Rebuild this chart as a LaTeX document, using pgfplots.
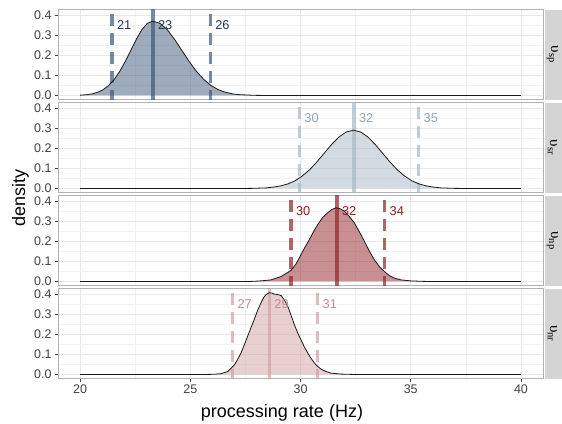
\documentclass[border=0pt]{standalone}
\usepackage{fontspec}
\setmainfont{Liberation Sans}
\newfontfamily\serifstrip{Liberation Serif}
\usepackage{pgfplots}
\usepackage{pgfplotstable}
\pgfplotsset{compat=1.18}

\definecolor{cA}{HTML}{3D5879}
\definecolor{cB}{HTML}{A8B6C4}
\definecolor{cC}{HTML}{93222A}
\definecolor{cD}{HTML}{D1A0A2}
\definecolor{tA}{HTML}{22385A}
\definecolor{tB}{HTML}{8FA1B5}
\definecolor{tC}{HTML}{8E1B1F}
\definecolor{tD}{HTML}{C48C8F}
\definecolor{stripgrey}{HTML}{D4D4D4}

\newcommand\tickfont{\fontsize{12.5}{14}\selectfont}
\newcommand\labfont{\fontsize{12.8}{14}\selectfont}
\newcommand\axfont{\fontsize{18}{21}\selectfont}
\newcommand\stripfont{\serifstrip\fontsize{15}{17}\selectfont}

\pgfplotstableread{
x y
20.00 0.0016
20.30 0.004
20.55 0.008
20.80 0.016
21.05 0.029
21.30 0.050
21.55 0.080
21.80 0.120
22.05 0.169
22.30 0.224
22.55 0.279
22.80 0.327
23.05 0.359
23.30 0.370
23.63 0.359
23.96 0.327
24.29 0.279
24.62 0.224
24.95 0.169
25.28 0.120
25.61 0.080
25.94 0.050
26.27 0.029
26.60 0.016
26.93 0.008
27.26 0.004
27.92 0.0008
28.58 0.0001
30.00 0.0
40.00 0.0
}\tabA

\pgfplotstableread{
x y
20.00 0.0
27.12 0.0001
27.78 0.0006
28.44 0.003
28.77 0.007
29.10 0.013
29.43 0.023
29.76 0.039
30.09 0.063
30.42 0.094
30.75 0.133
31.08 0.176
31.41 0.219
31.74 0.256
32.07 0.281
32.40 0.290
32.73 0.281
33.06 0.256
33.39 0.219
33.72 0.176
34.05 0.133
34.38 0.094
34.71 0.063
35.04 0.039
35.37 0.023
35.70 0.013
36.03 0.007
36.36 0.003
37.02 0.0006
37.68 0.0001
40.00 0.0
}\tabB

\pgfplotstableread{
x y
20.00 0.0
27.60 0.0
27.90 0.001
28.30 0.004
28.66 0.008
29.12 0.025
29.57 0.055
29.80 0.088
30.02 0.133
30.20 0.170
30.40 0.208
30.60 0.250
30.78 0.283
31.00 0.318
31.23 0.342
31.42 0.358
31.61 0.367
31.80 0.362
31.99 0.350
32.20 0.325
32.44 0.292
32.67 0.247
32.90 0.200
33.12 0.152
33.35 0.108
33.57 0.075
33.80 0.050
34.02 0.030
34.25 0.017
34.56 0.008
35.00 0.003
35.60 0.0005
40.00 0.0
}\tabC

\pgfplotstableread{
x y
20.00 0.0
25.80 0.0005
26.10 0.001
26.39 0.004
26.70 0.015
27.00 0.048
27.15 0.075
27.30 0.107
27.45 0.148
27.60 0.190
27.75 0.232
27.90 0.273
28.05 0.318
28.21 0.357
28.33 0.383
28.44 0.398
28.59 0.407
28.70 0.405
28.81 0.400
28.95 0.398
29.12 0.393
29.27 0.370
29.42 0.340
29.57 0.295
29.72 0.248
29.87 0.208
30.02 0.173
30.17 0.138
30.33 0.107
30.48 0.080
30.63 0.057
30.78 0.040
30.93 0.027
31.15 0.015
31.38 0.007
31.84 0.002
32.50 0.0
40.00 0.0
}\tabD

\tikzset{
  vlab/.style={anchor=west, inner sep=0pt, xshift=4.8pt, font=\labfont},
  stripnode/.style={rotate=-90, inner sep=0pt, font=\stripfont},
}

\pgfplotsset{
  panel/.style={
    width=485pt, height=90pt, scale only axis,
    anchor=south west,
    xmin=19, xmax=41, ymin=-0.0204, ymax=0.4274,
    xtick={20,25,30,35,40}, minor xtick={22.5,27.5,32.5,37.5},
    ytick={0,0.1,0.2,0.3,0.4}, minor ytick={0.05,0.15,0.25,0.35},
    grid=both,
    major grid style={draw=black!9, line width=0.7pt},
    minor grid style={draw=black!5, line width=0.4pt},
    axis line style={draw=black!30, line width=0.7pt},
    tick align=outside, tick pos=left,
    major tick length=3pt, minor tick length=0pt,
    tick style={draw=black!75, line width=0.6pt},
    tick label style={font=\tickfont, text=black!75},
    yticklabel style={/pgf/number format/fixed, /pgf/number format/fixed zerofill, /pgf/number format/precision=1},
    /pgf/number format/assume math mode=true,
    clip mode=individual,
  },
  dens/.style={draw=black!90, line width=0.8pt},
  vsolid/.style={line width=3.2pt, opacity=0.7},
  vdash/.style={line width=3.2pt, opacity=0.7, dash pattern=on 12pt off 7pt},
}

\begin{document}
\begin{tikzpicture}
\path[use as bounding box] (0,0) rectangle (562pt,423pt);

% Panel 1
\begin{axis}[panel, at={(58pt,323.4pt)}, xmajorticks=false]
  \addplot[draw=none, fill=cA, fill opacity=0.5] table {\tabA} \closedcycle;
  \addplot[cA, vdash] coordinates {(21.45,-0.03) (21.45,0.44)};
  \addplot[cA, vsolid] coordinates {(23.31,-0.03) (23.31,0.44)};
  \addplot[cA, vdash] coordinates {(25.91,-0.03) (25.91,0.44)};
  \addplot[dens] table {\tabA};
  \node[vlab, text=tA] at (axis cs:21.45,0.35) {21};
  \node[vlab, text=tA] at (axis cs:23.31,0.35) {23};
  \node[vlab, text=tA] at (axis cs:25.91,0.35) {26};
  \fill[stripgrey] ([xshift=1.5pt]rel axis cs:1,0) rectangle ([xshift=19pt]rel axis cs:1,1);
  \node[stripnode] at ([xshift=9.5pt]rel axis cs:1,0.5) {υ\textsubscript{sp}};
\end{axis}

% Panel 2
\begin{axis}[panel, at={(58pt,230.4pt)}, xmajorticks=false]
  \addplot[draw=none, fill=cB, fill opacity=0.5] table {\tabB} \closedcycle;
  \addplot[cB, vdash] coordinates {(29.95,-0.03) (29.95,0.44)};
  \addplot[cB, vsolid] coordinates {(32.43,-0.03) (32.43,0.44)};
  \addplot[cB, vdash] coordinates {(35.36,-0.03) (35.36,0.44)};
  \addplot[dens] table {\tabB};
  \node[vlab, text=tB] at (axis cs:29.95,0.35) {30};
  \node[vlab, text=tB] at (axis cs:32.43,0.35) {32};
  \node[vlab, text=tB] at (axis cs:35.36,0.35) {35};
  \fill[stripgrey] ([xshift=1.5pt]rel axis cs:1,0) rectangle ([xshift=19pt]rel axis cs:1,1);
  \node[stripnode] at ([xshift=9.5pt]rel axis cs:1,0.5) {υ\textsubscript{sr}};
\end{axis}

% Panel 3
\begin{axis}[panel, at={(58pt,137.4pt)}, xmajorticks=false]
  \addplot[draw=none, fill=cC, fill opacity=0.5] table {\tabC} \closedcycle;
  \addplot[cC, vdash] coordinates {(29.57,-0.03) (29.57,0.44)};
  \addplot[cC, vsolid] coordinates {(31.66,-0.03) (31.66,0.44)};
  \addplot[cC, vdash] coordinates {(33.82,-0.03) (33.82,0.44)};
  \addplot[dens] table {\tabC};
  \node[vlab, text=tC] at (axis cs:29.57,0.35) {30};
  \node[vlab, text=tC] at (axis cs:31.66,0.35) {32};
  \node[vlab, text=tC] at (axis cs:33.82,0.35) {34};
  \fill[stripgrey] ([xshift=1.5pt]rel axis cs:1,0) rectangle ([xshift=19pt]rel axis cs:1,1);
  \node[stripnode] at ([xshift=9.5pt]rel axis cs:1,0.5) {υ\textsubscript{np}};
\end{axis}

% Panel 4
\begin{axis}[panel, at={(58pt,44.4pt)}]
  \addplot[draw=none, fill=cD, fill opacity=0.5] table {\tabD} \closedcycle;
  \addplot[cD, vdash] coordinates {(26.92,-0.03) (26.92,0.44)};
  \addplot[cD, vsolid] coordinates {(28.59,-0.03) (28.59,0.44)};
  \addplot[cD, vdash] coordinates {(30.78,-0.03) (30.78,0.44)};
  \addplot[dens] table {\tabD};
  \node[vlab, text=tD] at (axis cs:26.92,0.35) {27};
  \node[vlab, text=tD] at (axis cs:28.59,0.35) {29};
  \node[vlab, text=tD] at (axis cs:30.78,0.35) {31};
  \fill[stripgrey] ([xshift=1.5pt]rel axis cs:1,0) rectangle ([xshift=19pt]rel axis cs:1,1);
  \node[stripnode] at ([xshift=9.5pt]rel axis cs:1,0.5) {υ\textsubscript{nr}};
\end{axis}

\node[rotate=90, anchor=base, font=\axfont] at (25pt,225pt) {density};
\node[anchor=base, font=\axfont] at (282pt,5.7pt) {processing rate (Hz)};
\end{tikzpicture}
\end{document}
